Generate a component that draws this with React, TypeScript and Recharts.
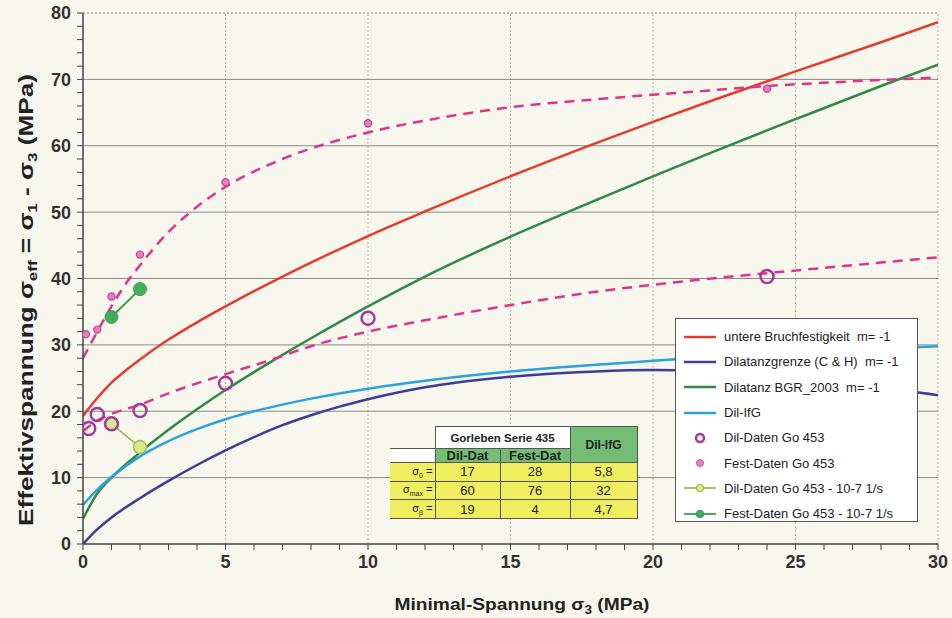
import { ComposedChart, Line, XAxis, YAxis, ReferenceLine, Label, Legend } from 'recharts';

// sigma3 (MPa) / sigma_eff (MPa) pairs
const bruchfestigkeit = [[0, 19.3], [0.5, 22], [1, 24.3], [2, 27.8], [3, 30.8], [4, 33.4], [5, 35.8], [6, 38.1], [7, 40.3], [8, 42.4], [10, 46.4], [12, 50.1], [15, 55.4], [18, 60.4], [20, 63.6], [22, 66.7], [25, 71.2], [28, 75.6], [30, 78.6]];
const dilatanzCH = [[0, 0], [0.5, 2.2], [1, 4], [2, 6.9], [3, 9.5], [4, 11.9], [5, 14.1], [6, 16.1], [7, 17.9], [8, 19.4], [9, 20.7], [10, 21.8], [12, 23.6], [15, 25.2], [18, 26], [20, 26.2], [22, 26], [24, 25.4], [26, 24.6], [28, 23.6], [30, 22.4]];
const dilatanzBGR = [[0, 3.8], [0.5, 7.6], [1, 10], [2, 13.8], [3, 17.2], [4, 20.3], [5, 23.2], [6, 25.9], [7, 28.5], [8, 31], [10, 35.8], [12, 40.3], [15, 46.3], [18, 51.8], [20, 55.4], [22, 58.9], [25, 64], [28, 69], [30, 72.2]];
const dilIfG = [[0, 5.9], [0.5, 8.2], [1, 10.1], [2, 13.2], [3, 15.5], [4, 17.3], [5, 18.8], [6, 20], [7, 21], [8, 21.9], [10, 23.4], [12, 24.6], [15, 26], [18, 27], [20, 27.6], [22, 28.2], [25, 28.9], [30, 29.8]];
const festFit = [[0, 28], [0.5, 32], [1, 35.8], [1.5, 39.2], [2, 42], [3, 47], [4, 50.8], [5, 53.8], [7, 58], [10, 62], [12, 63.8], [15, 65.8], [18, 67], [21.6, 68.2], [24, 69], [27, 69.7], [30, 70.3]];
const dilFit = [[0, 17], [0.5, 18.6], [1, 19.6], [2, 21], [3, 22.7], [5, 25.6], [6.5, 27.6], [8, 29.8], [10, 32], [12, 33.7], [15, 36], [18, 38], [21.6, 39.8], [24, 40.8], [27, 42], [30, 43.2]];

const dilDaten = [[0.2, 17.4], [0.5, 19.5], [1, 18.1], [2, 20.1], [5, 24.2], [10, 34], [24, 40.3]];
const festDaten = [[0.1, 31.6], [0.5, 32.3], [1, 37.3], [2, 43.6], [5, 54.5], [10, 63.4], [24, 68.6]];
const dilDaten107 = [[1, 18.1], [2, 14.6]];
const festDaten107 = [[1, 34.2], [2, 38.4]];

const xTicks = Array.from({ length: 31 }, (_, i) => i);
const yTicks = Array.from({ length: 41 }, (_, i) => i * 2);
const xGrid = [5, 10, 15, 20, 25, 30];
const yGrid = [10, 20, 30, 40, 50, 60, 70, 80];

const legendLabels = [
    'untere Bruchfestigkeit  m= -1',
    'Dilatanzgrenze (C & H)  m= -1',
    'Dilatanz BGR_2003  m= -1',
    'Dil-IfG',
    'Dil-Daten Go 453',
    'Fest-Daten Go 453',
    'Dil-Daten Go 453 - 10-7 1/s',
    'Fest-Daten Go 453 - 10-7 1/s',
];

// table in the plot
const tableTitle = 'Gorleben Serie 435';
const tableCols = ['Dil-Dat', 'Fest-Dat'];
const tableIfG = 'Dil-IfG';
const rowLabels = [['σ', '0'], ['σ', 'max'], ['σ', 'β']];
const dilDatValues = ['17', '60', '19'];
const festDatValues = ['28', '76', '4'];
const ifgValues = ['5,8', '32', '4,7'];

const RED = '#e63b2c';
const NAVY = '#3c3c9c';
const GREEN = '#2f8a48';
const SKY = '#2aa3dc';
const PINK = '#e0338a';
const PURPLE = '#a23a9c';

const toPts = (arr: number[][]) => arr.map(([x, y]) => ({ x, y }));

const dilDot = (p: any) => (
    <circle key={p.index} cx={p.cx} cy={p.cy} r={6.5} fill="none" stroke={PURPLE} strokeWidth={2.5} />
);
const festDot = (p: any) => (
    <circle key={p.index} cx={p.cx} cy={p.cy} r={3.6} fill="#f07ab8" stroke="#b04aa0" strokeWidth={1.2} />
);
const dil107Dot = (p: any) => (
    <circle key={p.index} cx={p.cx} cy={p.cy} r={6.5} fill="#d6e98c" stroke="#a6ba4c" strokeWidth={1.5} />
);
const fest107Dot = (p: any) => (
    <circle key={p.index} cx={p.cx} cy={p.cy} r={6.5} fill="#42ad5c" stroke="#3a9d52" strokeWidth={1} />
);

function LegendIcon({ i }: { i: number }) {
    const colors = [RED, NAVY, GREEN, SKY];
    if (i < 4) return <line x1={2} y1={7} x2={34} y2={7} stroke={colors[i]} strokeWidth={2.5} />;
    if (i === 4) return <circle cx={18} cy={7} r={4} fill="none" stroke={PURPLE} strokeWidth={2.5} />;
    if (i === 5) return <circle cx={18} cy={7} r={3.5} fill="#f07ab8" stroke="#c060a8" strokeWidth={1} />;
    const c = i === 6 ? '#a6ba4c' : '#3a9d52';
    return (
        <g>
            <line x1={2} y1={7} x2={34} y2={7} stroke={c} strokeWidth={1.8} />
            <circle cx={18} cy={7} r={3.5} fill={i === 6 ? '#d6e98c' : '#42ad5c'} stroke={c} strokeWidth={1.2} />
        </g>
    );
}

const renderLegend = () => (
    <div style={{ background: '#fff', border: '1.5px solid #555', padding: '5px 6px', boxSizing: 'border-box', width: 243, height: 204 }}>
        {legendLabels.map((l, i) => (
            <div key={l} style={{ display: 'flex', alignItems: 'center', height: 25.3, fontSize: 13, color: '#222', whiteSpace: 'pre' }}>
                <svg width={38} height={14} style={{ marginRight: 4 }}><LegendIcon i={i} /></svg>
                {l}
            </div>
        ))}
    </div>
);

const cell = { border: '1.2px solid #555', padding: 0, textAlign: 'center' as const };
const YELLOW = '#f0ee5e';
const HEADGREEN = '#74bd74';

function ParamTable() {
    return (
        <table style={{ position: 'absolute', left: 390, top: 426, borderCollapse: 'collapse', fontSize: 13, color: '#222', tableLayout: 'fixed' }}>
            <colgroup>
                <col style={{ width: 45 }} />
                <col style={{ width: 65 }} />
                <col style={{ width: 70 }} />
                <col style={{ width: 67 }} />
            </colgroup>
            <tbody>
                <tr style={{ height: 22 }}>
                    <td style={{ padding: 0 }} />
                    <td colSpan={2} style={{ ...cell, background: '#fff', fontWeight: 'bold', fontSize: 11.5 }}>{tableTitle}</td>
                    <td rowSpan={2} style={{ ...cell, background: HEADGREEN, fontWeight: 'bold', fontSize: 12 }}>{tableIfG}</td>
                </tr>
                <tr style={{ height: 14 }}>
                    <td style={{ ...cell, background: '#fff', borderLeft: 'none' }} />
                    {tableCols.map(c => (
                        <td key={c} style={{ ...cell, background: HEADGREEN, fontWeight: 'bold', fontSize: 13, lineHeight: '13px' }}>{c}</td>
                    ))}
                </tr>
                {rowLabels.map(([s, sub], i) => (
                    <tr key={sub} style={{ height: 18.7 }}>
                        <td style={{ ...cell, background: YELLOW, textAlign: 'right', fontSize: 11, paddingRight: 2, borderLeft: 'none' }}>
                            {s}<sub style={{ fontSize: 7 }}>{sub}</sub> =
                        </td>
                        <td style={{ ...cell, background: YELLOW }}>{dilDatValues[i]}</td>
                        <td style={{ ...cell, background: YELLOW }}>{festDatValues[i]}</td>
                        <td style={{ ...cell, background: YELLOW }}>{ifgValues[i]}</td>
                    </tr>
                ))}
            </tbody>
        </table>
    );
}

const axisFont = { fontSize: 18, fontWeight: 'bold', fill: '#333', fontFamily: 'Liberation Sans, Arial, sans-serif' };

export default function App() {
    return (
        <div style={{ position: 'relative', width: 952, height: 618, background: '#f7f7ee', fontFamily: 'Liberation Sans, Arial, sans-serif', overflow: 'hidden' }}>
            <style>{'body{margin:0;background:#f7f7ee}'}</style>
            <ComposedChart width={952} height={618} margin={{ top: 13, right: 14, bottom: 0, left: 0 }}>
                <XAxis
                    dataKey="x"
                    type="number"
                    domain={[0, 30]}
                    ticks={xTicks}
                    interval={0}
                    tickFormatter={(v: number) => (v % 5 === 0 ? String(v) : '')}
                    tick={axisFont}
                    tickSize={6}
                    tickMargin={5}
                    height={74}
                    axisLine={{ stroke: '#444', strokeWidth: 1.5 }}
                    tickLine={{ stroke: '#444' }}
                    allowDataOverflow
                >
                    <Label
                        content={() => (
                            <text x={522} y={610} textAnchor="middle" textLength={255} lengthAdjust="spacingAndGlyphs"
                                style={{ fontSize: 17, fontWeight: 'bold', fill: '#222' }}>
                                Minimal-Spannung σ<tspan fontSize={12} dy={4}>3</tspan><tspan dy={-4}> (MPa)</tspan>
                            </text>
                        )}
                    />
                </XAxis>
                <YAxis
                    type="number"
                    domain={[0, 80]}
                    ticks={yTicks}
                    interval={0}
                    tickFormatter={(v: number) => (v % 10 === 0 ? String(v) : '')}
                    tick={axisFont}
                    tickSize={6}
                    tickMargin={6}
                    width={83}
                    axisLine={{ stroke: '#444', strokeWidth: 1.5 }}
                    tickLine={{ stroke: '#444' }}
                    allowDataOverflow
                >
                    <Label
                        content={() => (
                            <text x={0} y={0} transform="translate(33,300) rotate(-90)" textAnchor="middle" textLength={452} lengthAdjust="spacingAndGlyphs"
                                style={{ fontSize: 20, fontWeight: 'bold', fill: '#222' }}>
                                Effektivspannung σ<tspan fontSize={13} dy={4}>eff</tspan><tspan dy={-4}> = σ</tspan><tspan fontSize={13} dy={4}>1</tspan><tspan dy={-4}> - σ</tspan><tspan fontSize={13} dy={4}>3</tspan><tspan dy={-4}> (MPa)</tspan>
                            </text>
                        )}
                    />
                </YAxis>

                {xGrid.map(v => (
                    <ReferenceLine key={'x' + v} x={v} stroke="#bdb3a0" strokeDasharray="2 2" />
                ))}
                {yGrid.map(v => (
                    <ReferenceLine key={'y' + v} y={v} stroke={v === 80 ? '#888' : '#8a8a84'} strokeDasharray={v === 80 ? '2 2' : undefined} />
                ))}

                <Line data={toPts(bruchfestigkeit)} dataKey="y" type="monotone" stroke={RED} strokeWidth={2.5} dot={false} isAnimationActive={false} />
                <Line data={toPts(dilatanzCH)} dataKey="y" type="monotone" stroke={NAVY} strokeWidth={2.5} dot={false} isAnimationActive={false} />
                <Line data={toPts(dilatanzBGR)} dataKey="y" type="monotone" stroke={GREEN} strokeWidth={2.5} dot={false} isAnimationActive={false} />
                <Line data={toPts(dilIfG)} dataKey="y" type="monotone" stroke={SKY} strokeWidth={2.5} dot={false} isAnimationActive={false} />
                <Line data={toPts(festFit)} dataKey="y" type="monotone" stroke={PINK} strokeWidth={2.5} strokeDasharray="10 7" dot={false} isAnimationActive={false} />
                <Line data={toPts(dilFit)} dataKey="y" type="monotone" stroke={PINK} strokeWidth={2.5} strokeDasharray="10 7" dot={false} isAnimationActive={false} />

                <Line data={toPts(dilDaten107)} dataKey="y" type="linear" stroke="#a6ba4c" strokeWidth={1.8} dot={dil107Dot} isAnimationActive={false} />
                <Line data={toPts(festDaten107)} dataKey="y" type="linear" stroke="#3a9d52" strokeWidth={2} dot={fest107Dot} isAnimationActive={false} />
                <Line data={toPts(dilDaten)} dataKey="y" stroke="none" dot={dilDot} isAnimationActive={false} />
                <Line data={toPts(festDaten)} dataKey="y" stroke="none" dot={festDot} isAnimationActive={false} />

                <Legend
                    layout="vertical"
                    align="center"
                    verticalAlign="middle"
                    content={renderLegend}
                    wrapperStyle={{ left: 675, top: 318, width: 243, height: 204 }}
                />
            </ComposedChart>
            <ParamTable />
        </div>
    );
}
